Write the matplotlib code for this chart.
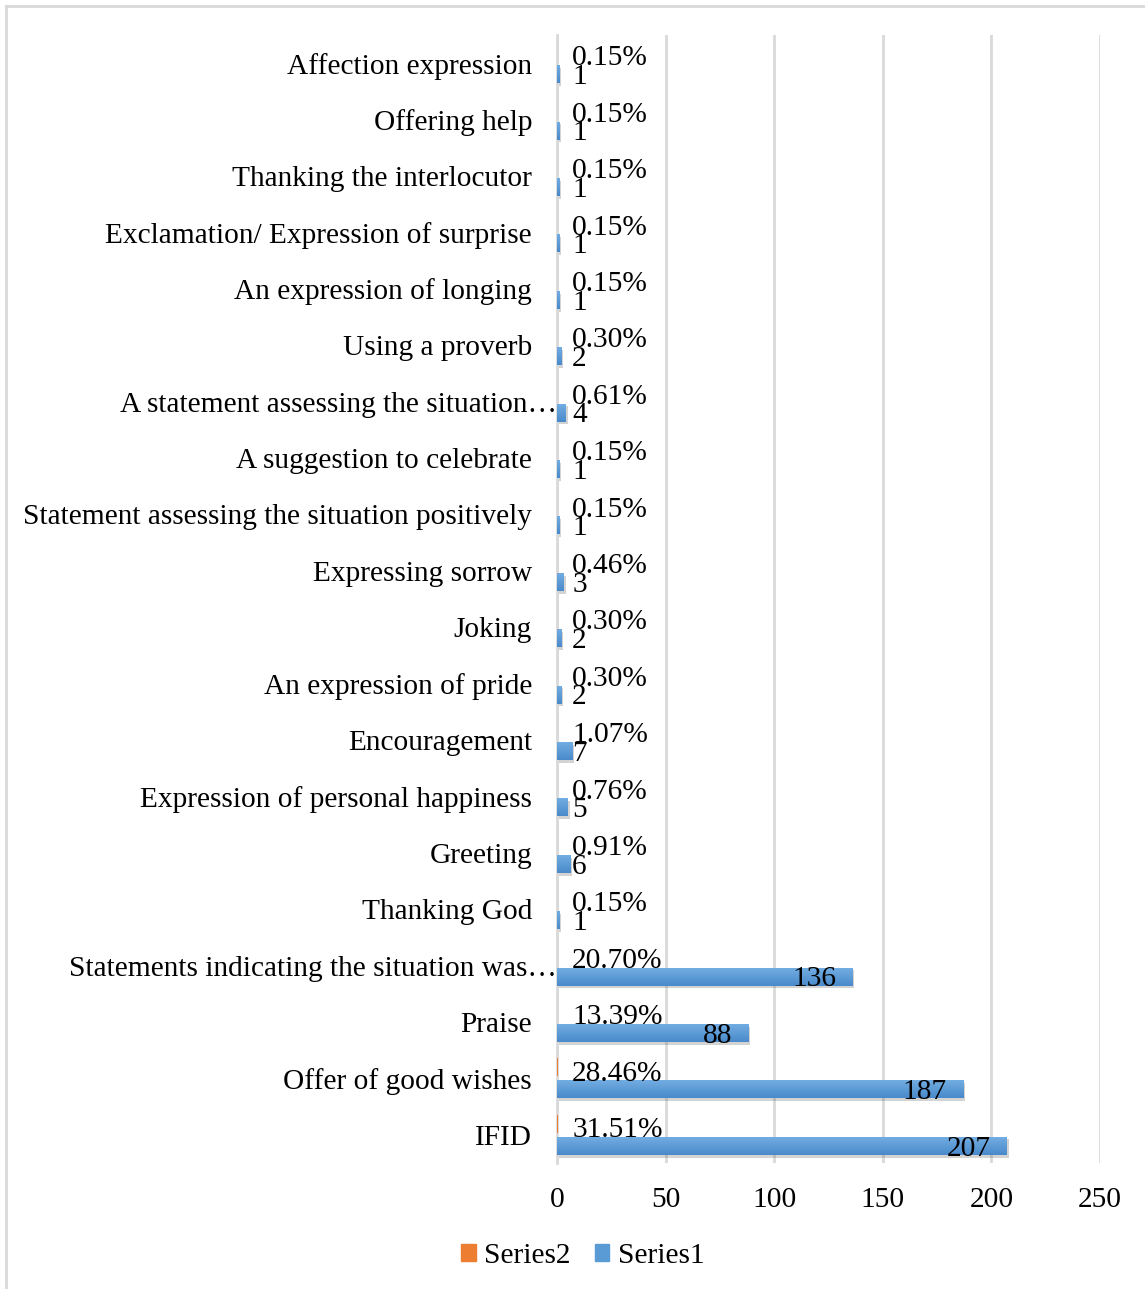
import numpy as np
import matplotlib
matplotlib.use("Agg")
import matplotlib.pyplot as plt
import matplotlib.patheffects as pe
from matplotlib.lines import Line2D
from matplotlib.patches import Patch
from matplotlib.transforms import ScaledTranslation

plt.rcParams['font.family'] = ['Liberation Serif', 'DejaVu Serif']

# categories listed bottom to top, as drawn on the y axis
categories = [
    "IFID",
    "Offer of good wishes",
    "Praise",
    "Statements indicating the situation was\u2026",
    "Thanking God",
    "Greeting",
    "Expression of personal happiness",
    "Encouragement",
    "An expression of pride",
    "Joking",
    "Expressing sorrow",
    "Statement assessing the situation positively",
    "A suggestion to celebrate",
    "A statement assessing the situation\u2026",
    "Using a proverb",
    "An expression of longing",
    "Exclamation/ Expression of surprise",
    "Thanking the interlocutor",
    "Offering help",
    "Affection expression",
]
counts = [207, 187, 88, 136, 1, 6, 5, 7, 2, 2, 3, 1, 1, 4, 2, 1, 1, 1, 1, 1]
shares = [0.3151, 0.2846, 0.1339, 0.2070, 0.0015, 0.0091, 0.0076, 0.0107,
          0.0030, 0.0030, 0.0046, 0.0015, 0.0015, 0.0061, 0.0030, 0.0015,
          0.0015, 0.0015, 0.0015, 0.0015]
xticks = [0, 50, 100, 150, 200, 250]

blue = "#5b9bd5"
orange = "#ed7d31"
grid = "#d9d9d9"
fs = 21.2

fig = plt.figure(figsize=(11.45, 12.89), dpi=100)
ax = fig.add_axes([0.4865, 0.0978, 0.9607 - 0.4865, 0.9728 - 0.0978])

y = np.arange(len(categories))
off = 0.195
h = 0.32

# Series2 (shares) sits in the upper half of each band, Series1 below it
ax.barh(y + off, shares, height=h, color=orange, linewidth=0, zorder=3)
bars = ax.barh(y - off, counts, height=h, color=blue, zorder=3,
               path_effects=[pe.SimplePatchShadow(offset=(1.5, -2), shadow_rgbFace='#505050', alpha=0.25),
                             pe.Normal()])

# soft top-to-bottom shading inside each blue bar
grad = np.linspace(0, 1, 64).reshape(-1, 1)
cmap = matplotlib.colors.LinearSegmentedColormap.from_list("bb", ["#74afe3", "#4a8acb"])
for b in bars:
    x0, y0 = b.get_x(), b.get_y()
    im = ax.imshow(grad, cmap=cmap, aspect='auto', zorder=4,
                   extent=(x0, x0 + b.get_width(), y0, y0 + b.get_height()))
    im.set_clip_path(b)

for yi, c, s in zip(y, counts, shares):
    ax.text(7, yi + off - 0.11, f"{s * 100:.2f}%", ha='left', va='center', fontsize=fs, zorder=5)
    if c > 20:
        ax.text(c - 7.5, yi - off - 0.05, str(c), ha='right', va='center', fontsize=fs, zorder=5)
    else:
        ax.text(7, yi - off - 0.05, str(c), ha='left', va='center', fontsize=fs, zorder=5)

ax.set_xlim(0, 250)
ax.set_ylim(-0.5, len(categories) - 0.5)
ax.set_xticks(xticks)
ax.set_yticks(y)
ax.set_yticklabels(categories, fontsize=fs)
ax.tick_params(axis='x', length=0, pad=17, labelsize=fs)
ax.tick_params(axis='y', length=0, pad=18)
ax.grid(axis='x', color=grid, linewidth=2, zorder=0)
for side in ['top', 'right', 'bottom']:
    ax.spines[side].set_visible(False)
ax.spines['left'].set_color(grid)
ax.spines['left'].set_linewidth(2)

# truncated labels run right up to the axis line
for lab in ax.get_yticklabels():
    if lab.get_text().endswith("\u2026"):
        lab.set_transform(lab.get_transform() + ScaledTranslation(0.25, 0, fig.dpi_scale_trans))

handles = [Patch(color=orange, label="Series2"), Patch(color=blue, label="Series1")]
fig.legend(handles=handles, loc='center', bbox_to_anchor=(0.509, 1 - 1256 / 1289), ncol=2,
           frameon=False, fontsize=fs, handlelength=0.5, handleheight=0.5,
           handletextpad=0.3, columnspacing=0.8)

# outer chart frame (only top and left edges fall inside the image)
fig.add_artist(Line2D([6 / 1145, 1], [1 - 6 / 1289, 1 - 6 / 1289], color=grid, linewidth=2))
fig.add_artist(Line2D([6 / 1145, 6 / 1145], [0, 1 - 6 / 1289], color=grid, linewidth=2))

fig.savefig("out.png", dpi=100)
